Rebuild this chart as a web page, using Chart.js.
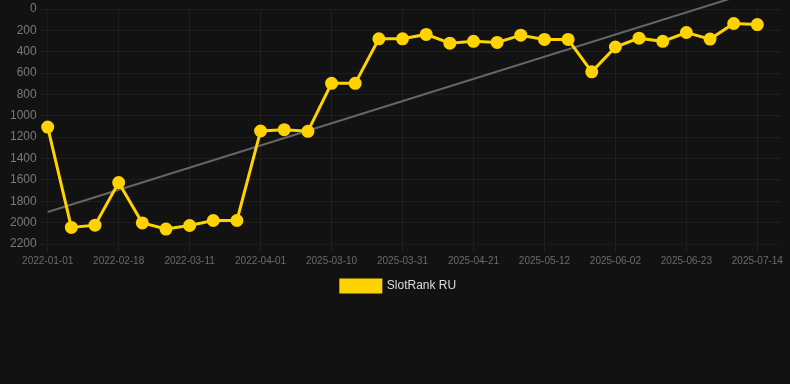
<!DOCTYPE html>
<html>
<head>
<meta charset="utf-8">
<script src="https://cdn.jsdelivr.net/npm/chart.js@4"></script>
<style>
  html, body { margin: 0; padding: 0; background: #121212; }
  #wrap { width: 790px; height: 384px; }
</style>
</head>
<body>
<div id="wrap"><canvas id="myChart"></canvas></div>
<script>
var labels = [
    '2022-01-01', '2022-01-21', '2022-02-04', '2022-02-18', '2022-02-25', '2022-03-04',
    '2022-03-11', '2022-03-18', '2022-03-25', '2022-04-01', '2022-04-08', '2022-04-15',
    '2025-03-10', '2025-03-17', '2025-03-24', '2025-03-31', '2025-04-07', '2025-04-14',
    '2025-04-21', '2025-04-28', '2025-05-05', '2025-05-12', '2025-05-19', '2025-05-26',
    '2025-06-02', '2025-06-09', '2025-06-16', '2025-06-23', '2025-06-30', '2025-07-07',
    '2025-07-14', '2025-07-21'
];
var rankRU = [
    1105, 2045, 2024, 1625, 2003, 2060, 2027, 1980, 1980, 1142, 1130, 1145,
    696, 696, 279, 279, 238, 320, 303, 313, 245, 285, 285, 588,
    356, 273, 303, 220, 282, 136, 146, null
];
var trendStart = 1900;
var trendEnd = -176;
var trend = labels.map(function (l, i) {
    if (i === 0) return trendStart;
    if (i === 30) return trendEnd;
    return null;
});
var yTicks = { min: 0, max: 2200, step: 200 };

window.onload = function () {
    var ctx = document.getElementById('myChart').getContext('2d');
    new Chart(ctx, {
        type: 'line',
        data: {
            labels: labels,
            datasets: [{
                label: 'SlotRank RU',
                data: rankRU,
                borderColor: '#FFD300',
                backgroundColor: '#FFD300',
                borderWidth: 3,
                pointRadius: 5,
                pointHoverRadius: 6,
                tension: 0
            }, {
                label: 'trend',
                data: trend,
                borderColor: '#666666',
                borderWidth: 2,
                pointRadius: 0,
                spanGaps: true,
                clip: false
            }]
        },
        options: {
            responsive: true,
            maintainAspectRatio: false,
            animation: false,
            layout: { padding: { left: 7, right: 0, bottom: 82 } },
            scales: {
                x: {
                    grid: { color: '#1e1e1e' },
                    ticks: { color: '#6b6b6b', font: { size: 10 }, maxRotation: 0 }
                },
                y: {
                    reverse: true,
                    min: yTicks.min,
                    max: yTicks.max,
                    grid: { color: '#1e1e1e' },
                    ticks: {
                        color: '#7a7a7a',
                        font: { size: 12, lineHeight: 0.5 },
                        stepSize: yTicks.step,
                        callback: function (v) { return String(v); }
                    }
                }
            },
            plugins: {
                legend: {
                    position: 'bottom',
                    labels: {
                        color: '#dddddd',
                        boxWidth: 40,
                        boxHeight: 12,
                        font: { size: 12 },
                        filter: function (item) { return item.text !== 'trend'; }
                    }
                },
                tooltip: { enabled: false }
            }
        }
    });
};
</script>
</body>
</html>
